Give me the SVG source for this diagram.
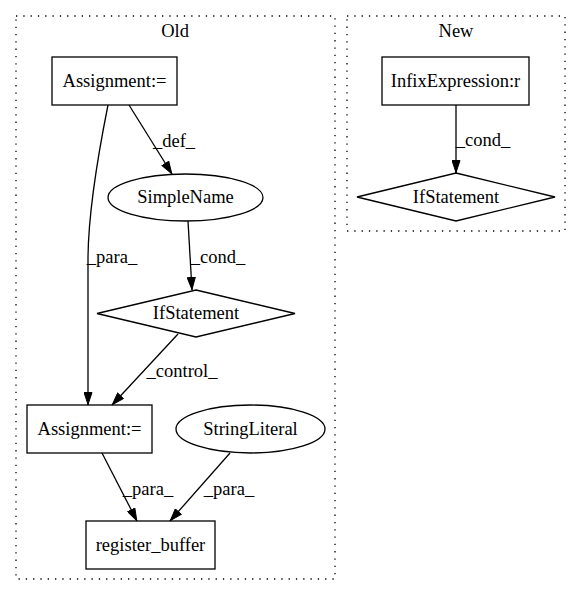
<svg xmlns="http://www.w3.org/2000/svg" width="581" height="596" viewBox="0 0 581 596">
<style>
text{font-family:"Liberation Serif","Times New Roman",serif;font-size:18.5px;fill:#000;text-anchor:middle}
.cl{fill:none;stroke:#000;stroke-width:1.3;stroke-dasharray:1.3,6}
.n{fill:none;stroke:#000;stroke-width:1.3}
.e{fill:none;stroke:#000;stroke-width:1.3}
</style>
<defs>
<marker id="ah" viewBox="0 0 13 9" refX="13" refY="4.5" markerWidth="13" markerHeight="9" orient="auto" markerUnits="userSpaceOnUse">
<path d="M0.5,0.5 L12.5,4.5 L0.5,8.5 Z" fill="#000" stroke="#000"/>
</marker>
</defs>
<rect width="581" height="596" fill="#fff"/>
<g id="cluster_old">
<rect class="cl" x="16" y="16" width="319" height="563"/>
<text x="175" y="37">Old</text>
</g>
<g id="cluster_new">
<rect class="cl" x="347" y="16" width="218" height="215"/>
<text x="456" y="37">New</text>
</g>
<g id="edges">
<path class="e" d="M129,105 L172,174" marker-end="url(#ah)"/>
<text x="174" y="147">_def_</text>
<path class="e" d="M108,105 C99,150 88,210 88,260 C88,310 88,360 88,405" marker-end="url(#ah)"/>
<text x="112" y="263">_para_</text>
<path class="e" d="M188,221 L192,290" marker-end="url(#ah)"/>
<text x="218" y="263">_cond_</text>
<path class="e" d="M178,334 L112,405" marker-end="url(#ah)"/>
<text x="182" y="377">_control_</text>
<path class="e" d="M102,453 L137,521" marker-end="url(#ah)"/>
<text x="148" y="495">_para_</text>
<path class="e" d="M230,453 L170,521" marker-end="url(#ah)"/>
<text x="229" y="495">_para_</text>
<path class="e" d="M456,105 L456,173" marker-end="url(#ah)"/>
<text x="483" y="146">_cond_</text>
</g>
<g id="assign1">
<rect class="n" x="52" y="57" width="125" height="48"/>
<text x="114.5" y="87">Assignment:=</text>
</g>
<g id="simplename">
<ellipse class="n" cx="185.5" cy="197.5" rx="77.5" ry="23.5"/>
<text x="185.5" y="203">SimpleName</text>
</g>
<g id="ifstmt_old">
<polygon class="n" points="196,290 295,313.5 196,337 97,313.5"/>
<text x="196" y="319">IfStatement</text>
</g>
<g id="assign2">
<rect class="n" x="27" y="405" width="125" height="48"/>
<text x="89.5" y="435">Assignment:=</text>
</g>
<g id="stringliteral">
<ellipse class="n" cx="250.5" cy="429" rx="74.5" ry="24"/>
<text x="250.5" y="435">StringLiteral</text>
</g>
<g id="register_buffer">
<rect class="n" x="86" y="521" width="129" height="48"/>
<text x="150.5" y="551">register_buffer</text>
</g>
<g id="infix">
<rect class="n" x="382" y="57" width="147" height="48"/>
<text x="455.5" y="87">InfixExpression:r</text>
</g>
<g id="ifstmt_new">
<polygon class="n" points="456,173 555,197 456,221 357,197"/>
<text x="456" y="203">IfStatement</text>
</g>
</svg>
